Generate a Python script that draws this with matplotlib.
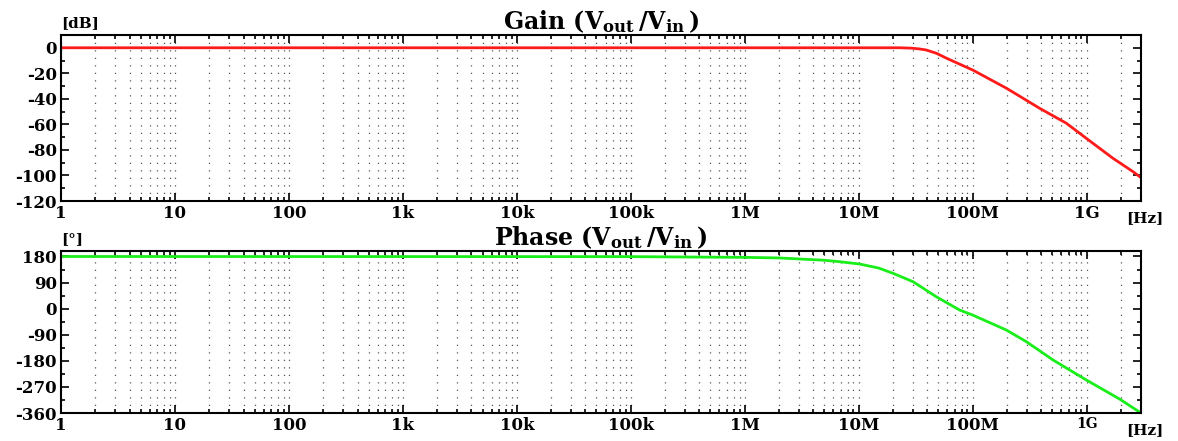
import matplotlib
matplotlib.use("Agg")
import matplotlib.pyplot as plt
from matplotlib.ticker import LogLocator, FixedLocator, MultipleLocator, NullFormatter

plt.rcParams['font.family'] = ['DejaVu Serif']
plt.rcParams['font.weight'] = 'bold'
plt.rcParams['mathtext.fontset'] = 'dejavuserif'
plt.rcParams['axes.unicode_minus'] = False

# ---- data ----
gain_freq = [1, 1e3, 1e6, 1e7, 2.3e7, 2.9e7, 3.4e7, 3.9e7, 4.8e7, 5.9e7, 1.0e8,
             1.98e8, 3.87e8, 6.64e8, 9.93e8, 1.70e9, 2.55e9, 3.0e9]
gain_db = [0, 0, 0, 0, 0, -0.3, -0.9, -1.7, -4.3, -8.2, -17.4,
           -31.7, -47.4, -59.1, -70.9, -86.5, -97.0, -101.7]

phase_freq = [1, 1e5, 1e6, 2e6, 5e6, 6.8e6, 1.02e7, 1.5e7, 2.0e7, 3.0e7, 4.8e7,
              7.7e7, 1.0e8, 1.98e8, 2.96e8, 5.07e8, 9.93e8, 1.95e9, 3.0e9]
phase_deg = [180, 179.5, 177, 175, 167, 162, 154, 140, 122, 93, 41,
             -5, -22, -74, -114, -177, -246, -312, -360]

xtick_vals = [1, 10, 100, 1e3, 1e4, 1e5, 1e6, 1e7, 1e8, 1e9]
xtick_labels = ['1', '10', '100', '1k', '10k', '100k', '1M', '10M', '100M', '1G']

gain_ticks = [0, -20, -40, -60, -80, -100, -120]
phase_ticks = [180, 90, 0, -90, -180, -270, -360]

W, H = 1178, 441
fig = plt.figure(figsize=(W / 100, H / 100), dpi=100)

ax1 = fig.add_axes([61 / W, 1 - 201 / H, 1080 / W, 166 / H])
ax2 = fig.add_axes([61 / W, 1 - 413 / H, 1080 / W, 162.3 / H])


def style(ax):
    ax.set_xscale('log')
    ax.set_xlim(1, 3e9)
    ax.xaxis.set_major_locator(FixedLocator(xtick_vals))
    ax.xaxis.set_minor_locator(LogLocator(base=10, subs=range(2, 10), numticks=50))
    ax.xaxis.set_minor_formatter(NullFormatter())
    ax.set_xticklabels(xtick_labels)
    ax.tick_params(which='both', direction='in', top=True, right=True,
                   labelsize=12, width=1.2, pad=3)
    ax.tick_params(which='major', length=6)
    ax.tick_params(which='minor', length=3)
    ax.grid(True, which='both', axis='x', color='#555555',
            linestyle=(0, (1, 5)), linewidth=0.9)
    for s in ax.spines.values():
        s.set_linewidth(1.5)
    for lab in ax.get_xticklabels() + ax.get_yticklabels():
        lab.set_fontweight('bold')


style(ax1)
ax1.set_ylim(-120, 10)
ax1.set_yticks(gain_ticks)
ax1.yaxis.set_minor_locator(MultipleLocator(10))
ax1.plot(gain_freq, gain_db, color='#ff1a1a', linewidth=2.0,
         solid_capstyle='round', solid_joinstyle='round')
ax1.set_title(r'Gain (V$_{\mathbf{out}}\,$/V$_{\mathbf{in}}\,$)', fontsize=17,
              fontweight='bold', pad=4)
ax1.text(0.0, 1.03, '[dB]', transform=ax1.transAxes, fontsize=11,
         fontweight='bold', ha='left', va='bottom')
ax1.text(0.986, -0.06, '[Hz]', transform=ax1.transAxes, fontsize=11,
         fontweight='bold', ha='left', va='top')

style(ax2)
ax2.set_ylim(-360, 200)
ax2.set_yticks(phase_ticks)
ax2.yaxis.set_minor_locator(MultipleLocator(45))
ax2.plot(phase_freq, phase_deg, color='#1aee1a', linewidth=2.0,
         solid_capstyle='round', solid_joinstyle='round')
ax2.set_title(r'Phase (V$_{\mathbf{out}}\,$/V$_{\mathbf{in}}\,$)', fontsize=17,
              fontweight='bold', pad=4)
ax2.text(0.0, 1.03, '[°]', transform=ax2.transAxes, fontsize=11,
         fontweight='bold', ha='left', va='bottom')
ax2.text(0.986, -0.06, '[Hz]', transform=ax2.transAxes, fontsize=11,
         fontweight='bold', ha='left', va='top')
ax2.get_xticklabels()[-1].set_fontsize(10)

fig.savefig('out.png', dpi=100)
